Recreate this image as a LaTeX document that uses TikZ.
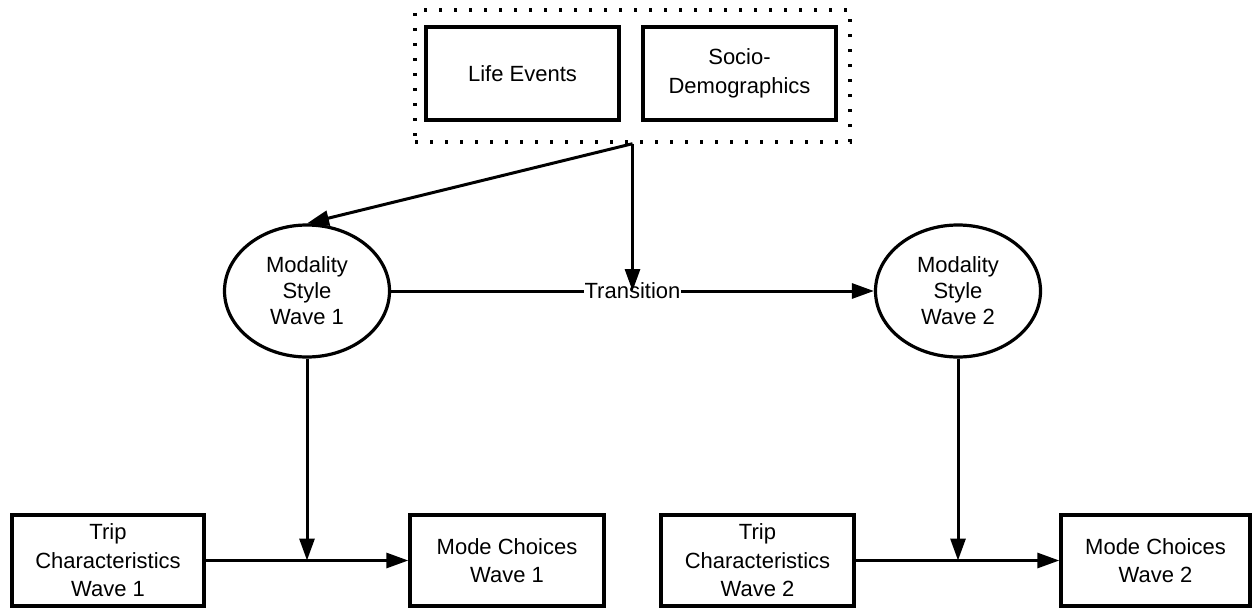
\documentclass[tikz,border=0pt]{standalone}
\usepackage{fontspec}
\setmainfont{Liberation Sans}
\usetikzlibrary{arrows.meta,shapes.geometric}
\begin{document}
\begin{tikzpicture}[x=1pt,y=-1pt,
  box/.style={draw,line width=3.4pt,rectangle,inner sep=0pt,align=center,
    font=\fontsize{22}{28.5}\selectfont},
  latent/.style={draw,line width=3.2pt,ellipse,inner sep=0pt,align=center,
    minimum width=165pt,minimum height=132pt,font=\fontsize{22}{26}\selectfont},
  link/.style={line width=3pt,-{Triangle[length=22pt,width=15pt]}}]
\useasboundingbox (0,0) rectangle (1252,610);

% grouped background variables
\node[draw,line width=3.4pt,dash pattern=on 3.4pt off 11.6pt,minimum width=435pt,
  minimum height=132pt,inner sep=0pt] (grp) at (632.5,76) {};
\node[box,minimum width=193pt,minimum height=93pt] (life) at (522.5,73.5) {Life Events};
\node[box,minimum width=193pt,minimum height=93pt] (socio) at (739.5,73.5) {Socio-\\Demographics};

% latent modality styles
\node[latent] (ms1) at (307,291) {Modality\\Style\\Wave 1};
\node[latent] (ms2) at (958,291) {Modality\\Style\\Wave 2};

% observed trip data and outcomes
\node[box,minimum width=192pt,minimum height=91pt] (trip1) at (108,560.5) {Trip\\Characteristics\\Wave 1};
\node[box,minimum width=194pt,minimum height=91pt] (mode1) at (507,560.5) {Mode Choices\\Wave 1};
\node[box,minimum width=193pt,minimum height=91pt] (trip2) at (757.5,560.5) {Trip\\Characteristics\\Wave 2};
\node[box,minimum width=189pt,minimum height=91pt] (mode2) at (1155.5,560.5) {Mode Choices\\Wave 2};

% transition between waves
\draw[link] (ms1.east) -- (ms2.west);
\node[fill=white,inner sep=1pt,font=\fontsize{22}{26}\selectfont] (trans) at (632.5,291) {Transition};
\coordinate (tj) at (grp.south |- ms1.east);
\draw[link] (grp.south) -- (tj);
\draw[link] (grp.south) -- (ms1.north);

% moderation of trip characteristics on mode choice
\coordinate (j1) at (ms1.south |- trip1.east);
\coordinate (j2) at (ms2.south |- trip2.east);
\draw[link] (trip1.east) -- (mode1.west);
\draw[link] (ms1.south) -- (j1);
\draw[link] (trip2.east) -- (mode2.west);
\draw[link] (ms2.south) -- (j2);
\end{tikzpicture}
\end{document}
